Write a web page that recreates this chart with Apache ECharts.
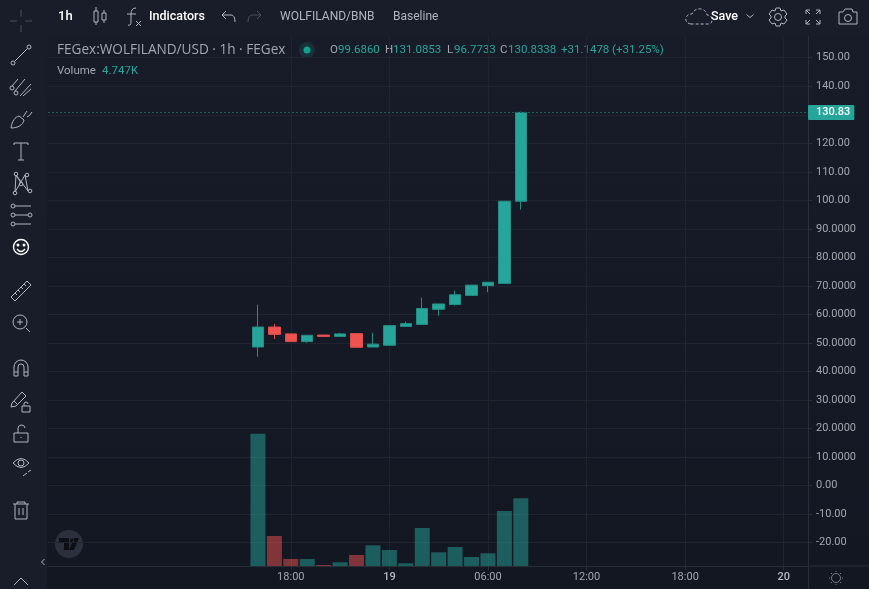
<!DOCTYPE html>
<html>
<head>
<meta charset="utf-8">
<style>
html, body { margin: 0; padding: 0; background: #131722; overflow: hidden; }
#chart { width: 869px; height: 589px; }
</style>
<script src="https://cdn.jsdelivr.net/npm/echarts@6/dist/echarts.min.js"></script>
</head>
<body>
<div id="chart"></div>
<script>
// hours counted from 00:00 on the 18th
let hours = [16, 17, 18, 19, 20, 21, 22, 23, 24, 25, 26, 27, 28, 29, 30, 31, 32];
let opens = [48.6, 55.6, 53.2, 50.5, 52.8, 52.3, 53.3, 48.6, 49.2, 55.8, 56.5, 61.8, 63.5, 66.7, 70.1, 70.9, 99.686];
let closes = [55.6, 53.0, 50.5, 52.7, 52.3, 53.2, 48.5, 49.6, 56.1, 56.8, 62.1, 63.7, 66.9, 70.3, 71.3, 99.7, 130.8338];
let lows = [45.2, 51.4, 50.5, 50.1, 52.3, 52.3, 48.5, 48.6, 49.2, 55.8, 56.5, 59.6, 63.1, 66.7, 67.8, 70.7, 96.7733];
let highs = [63.4, 56.7, 53.2, 52.7, 52.8, 53.6, 53.3, 53.6, 56.1, 57.5, 65.9, 63.7, 68.3, 70.3, 71.3, 99.7, 131.0853];
let volumes = [9277, 2104, 491, 491, 70, 257, 771, 1449, 1122, 187, 2665, 958, 1332, 631, 888, 3857, 4747];

let price_ticks = [150, 140, 130, 120, 110, 100, 90, 80, 70, 60, 50, 40, 30, 20, 10, 0, -10, -20];
let price_labels = ['150.00', '140.00', '130.00', '120.00', '110.00', '100.00', '90.0000', '80.0000', '70.0000', '60.0000',
    '50.0000', '40.0000', '30.0000', '20.0000', '10.0000', '0.00', '-10.00', '-20.00'];
let time_ticks = [18, 24, 30, 36, 42, 48];
let time_labels = ['18:00', '{day|19}', '06:00', '12:00', '18:00', '{day|20}'];
let last_price = 130.83;

let up_color = '#26a69a';
let down_color = '#ef5350';
let text_color = '#a3a6af';
let icon_color = '#b2b5be';
let grid_color = '#20242f';
let font = 'Roboto';
let icon_count = 0;

function circle(x, y, r) {
    return 'M' + (x - r) + ' ' + y + 'a' + r + ' ' + r + ' 0 1 0 ' + (2 * r) + ' 0a' + r + ' ' + r + ' 0 1 0 ' + (-2 * r) + ' 0';
}

// the graphic component has no plain path type, so each icon gets its own shape
function pathType(path) {
    icon_count++;
    let name = 'icon' + icon_count;
    echarts.graphic.registerShape(name, echarts.graphic.extendPath(path, {}));
    return name;
}

function icon(x, y, path, color, width) {
    return {
        type: pathType(path), x: x, y: y, silent: true,
        style: { fill: 'none', stroke: color || icon_color, lineWidth: width || 1 }
    };
}

function label(x, y, text, color, size, weight, family) {
    return {
        type: 'text', x: x, y: y, silent: true,
        style: { text: text, fill: color || icon_color, font: (weight || 'normal') + ' ' + (size || 12) + 'px ' + (family || font), textVerticalAlign: 'middle' }
    };
}

function drawChrome() {
    let pan = [
        { type: 'rect', z: -10, silent: true, shape: { x: 0, y: 0, width: 47, height: 589 }, style: { fill: '#191d2a' } },
        { type: 'rect', z: -10, silent: true, shape: { x: 0, y: 0, width: 869, height: 35 }, style: { fill: '#191d2a' } }
    ];
    let left_tools = [
        icon(21, 21, 'M-11 0H-4M4 0H11M0 -11V-4M0 4V11', '#4a4e59'),
        icon(21, 55, 'M-6.5 6.5L6.5 -6.5' + circle(-8, 8, 2) + circle(8, -8, 2)),
        icon(21, 87, 'M-9 -1L-3 -8M-6 4L4 -8M-1 9L10 -3M2 9L10 2' + circle(-9, 1, 2) + circle(-5, 6, 2)),
        icon(21, 119, 'M-10 9C-9 2 -6 -2 -2 -3L3 1C2 6 -3 9 -10 9ZM2 -2L6 -8M6 -2Q9 -3 11 -7'),
        icon(21, 151, 'M-7 -6V-8H7V-6M0 -8V9M-3 9H3'),
        icon(21, 183, 'M-6 9L-5 -8L7 8M-6 9L4 -8L7 8M-5 -8L0 0' + circle(-6, 10, 1.8) + circle(-5, -9, 1.8) + circle(6, -8, 1.8) + circle(9, 8, 1.8) + circle(0, 1, 1.8)),
        icon(21, 215, 'M-6 -9H10M-6 0H7M-6 9H10' + circle(-8, -9, 2) + circle(-8, 0, 2) + circle(9, 0, 2) + circle(-8, 9, 2)),
        icon(21, 247, circle(0, 0, 7.5) + 'M-4 2Q0 7 4 2' + circle(-3, -2, 0.8) + circle(3, -2, 0.8), '#ffffff', 1.4),
        icon(21, 291, 'M-10 6L6 -10L10 -6L-6 10ZM-6 2L-4 4M-3 -1L-1 1M0 -4L2 -2M3 -7L5 -5'),
        icon(21, 323, circle(-1, -1, 7) + 'M5 5L9 9M-1 -4V2M-4 -1H2'),
        icon(21, 368, 'M-7 8V-1A7 7 0 0 1 7 -1V8H3V-1A3 3 0 0 0 -3 -1V8ZM-7 4H-3M3 4H7'),
        icon(19, 399, 'M-7 4L3 -7L7 -3L-3 7L-8 8ZM-5 2L-1 6'),
        icon(26, 406, 'M-4 0H4V6H-4ZM-2 0V-2A2 2 0 0 1 2 -2'),
        icon(21, 434, 'M-7 -1H7V8H-7ZM-3 -1V-5A3.5 3.5 0 0 1 4 -6M0 3V4'),
        icon(21, 463, 'M-8 0Q0 -9 8 0Q0 9 -8 0Z' + circle(0, 0, 3)),
        icon(27, 473, 'M-4 3L0 0M1 -1L4 -3'),
        icon(21, 511, 'M-8 -7H8M-4 -7V-9H4V-7M-6 -7V8H6V-7M-2 -3V4M2 -3V4'),
        icon(43, 562, 'M1.5 -3L-1.5 0L1.5 3'),
        icon(21, 589, 'M-7 -4L0 -11L7 -4')
    ];
    let top_tools = [
        icon(99, 16, 'M-5 -5H-1V6H-5ZM-3 -9V-5M-3 6V9M3 -3H7V4H3ZM5 -6V-3M5 4V7'),
        icon(134, 17, 'M2 -9Q-3 -9 -3 -3V5Q-3 9 -6 8M-7 -3H2M2 4L7 9M7 4L2 9'),
        icon(229, 17, 'M-3 -6L-7 -2L-3 2M-7 -2H2Q6 -2 6 5'),
        icon(254, 17, 'M3 -6L7 -2L3 2M7 -2H-2Q-6 -2 -6 5', '#4a4e59'),
        { type: pathType('M-14 7Q-20 6 -19 1Q-18 -3 -13 -3Q-10 -9 -4 -8Q1 -7 2 -2Q7 -2 7 3Q7 7 3 7Z'), x: 705, y: 17, silent: true,
            style: { fill: 'none', stroke: icon_color, lineWidth: 1, lineDash: [3, 2] } },
        icon(750, 16, 'M-3.5 -1.5L0 1.5L3.5 -1.5'),
        icon(778, 17, circle(0, 0, 3.5) + 'M-2 -9H2L3 -6L6 -7L9 -3L7 -1V1L9 3L6 7L3 6L2 9H-2L-3 6L-6 7L-9 3L-7 1V-1L-9 -3L-6 -7L-3 -6Z'),
        icon(813, 17, 'M-7 -3V-7H-3M-7 -7L-3 -3M3 -7H7V-3M7 -7L3 -3M-7 3V7H-3M-7 7L-3 3M3 7H7V3M7 7L3 3'),
        icon(848, 17, 'M-9 -5H-5L-3 -8H4L5 -5H9V7H-9Z' + circle(0, 1, 3.5))
    ];
    let diff = closes[16] - opens[16];
    let legend = [
        label(57, 50, 'FEGex:WOLFILAND/USD · 1h · FEGex', text_color, 13.6, 'normal', 'Open Sans'),
        { type: 'circle', silent: true, shape: { cx: 307, cy: 50, r: 8 }, style: { fill: '#17303a' } },
        { type: 'circle', silent: true, shape: { cx: 307, cy: 50, r: 3.5 }, style: { fill: '#12a08e' } },
        label(330, 50, 'O', text_color, 11.5),
        label(338, 50, opens[16].toFixed(4), up_color, 11.5),
        label(385, 50, 'H', text_color, 11.5),
        label(393, 50, highs[16].toFixed(4), up_color, 11.5),
        label(447, 50, 'L', text_color, 11.5),
        label(454, 50, lows[16].toFixed(4), up_color, 11.5),
        label(500, 50, 'C', text_color, 11.5),
        label(508, 50, closes[16].toFixed(4), up_color, 11.5),
        label(561, 50, '+' + diff.toFixed(4), up_color, 11.5),
        label(612, 50, '(+' + (diff / opens[16] * 100).toFixed(2) + '%)', up_color, 11.5),
        label(57, 71, 'Volume', text_color, 11.5),
        label(102, 71, (volumes[16] / 1000).toFixed(3) + 'K', up_color, 11.5)
    ];
    let top_text = [
        label(58, 17, '1h', '#ffffff', 13, '500'),
        label(149, 17, 'Indicators', '#ffffff', 12.5, '500'),
        label(280, 17, 'WOLFILAND/BNB', icon_color, 12),
        label(393, 17, 'Baseline', icon_color, 12),
        label(711, 17, 'Save', '#ffffff', 12.5, '500')
    ];
    let misc = [
        { type: 'circle', silent: true, shape: { cx: 69, cy: 544, r: 14 }, style: { fill: '#2c303d' } },
        { type: pathType('M-10 -6H0V6H-5V-1H-10Z' + circle(3, -3.5, 2) + 'M10 -6L5 6H0L5 -6Z'), x: 69, y: 544, silent: true, style: { fill: '#0d0f15' } },
        { type: 'line', silent: true, shape: { x1: 808, y1: 566, x2: 869, y2: 566 }, style: { stroke: '#2a2e39' } },
        { type: 'line', silent: true, shape: { x1: 808.5, y1: 566, x2: 808.5, y2: 589 }, style: { stroke: '#2a2e39' } },
        icon(836, 578, circle(0, 0, 4.5) + 'M0 -7V-6M0 6V7M-7 0H-6M6 0H7M-5 -5L-4 -4M4 4L5 5M-5 5L-4 4M4 -4L5 -5', '#787b86')
    ];
    return pan.concat(left_tools, top_tools, legend, top_text, misc);
}

function drawChart() {
    let my_chart = echarts.init(document.getElementById('chart'));

    let candle_data = hours.map((h, i) => [h, opens[i], closes[i], lows[i], highs[i]]);
    let volume_data = hours.map((h, i) => ({
        value: [h, volumes[i]],
        itemStyle: { color: closes[i] >= opens[i] ? 'rgba(38,166,154,0.5)' : 'rgba(239,83,80,0.5)' }
    }));

    let option = {
        animation: false,
        backgroundColor: {
            type: 'linear', x: 0, y: 0, x2: 0, y2: 1,
            colorStops: [{ offset: 0, color: '#181c29' }, { offset: 1, color: '#131722' }]
        },
        textStyle: { fontFamily: font },
        graphic: { elements: drawChrome() },
        grid: { left: 48, right: 61, top: 36, bottom: 23 },
        xAxis: {
            type: 'value',
            min: 3.22,
            max: 49.48,
            axisLine: { show: true, onZero: false, lineStyle: { color: '#2a2e39' } },
            axisTick: { show: true, length: 4, customValues: time_ticks, lineStyle: { color: '#2a2e39' } },
            splitLine: { show: true, lineStyle: { color: grid_color } },
            axisLabel: {
                customValues: time_ticks,
                color: text_color,
                fontSize: 11,
                margin: 6,
                rich: {
                    day: { color: '#b8bac2', fontSize: 11, fontWeight: 500 }
                },
                formatter: function (value) {
                    return time_labels[time_ticks.indexOf(value)];
                }
            }
        },
        yAxis: [
            {
                type: 'value',
                position: 'right',
                min: -28.16,
                max: 157.61,
                axisLine: { show: true, lineStyle: { color: '#2a2e39' } },
                axisTick: { show: true, length: 4, customValues: price_ticks, lineStyle: { color: '#2a2e39' } },
                splitLine: { show: true, lineStyle: { color: grid_color } },
                axisLabel: {
                    customValues: price_ticks,
                    color: text_color,
                    fontSize: 11,
                    margin: 8,
                    formatter: function (value) {
                        return price_labels[price_ticks.indexOf(value)];
                    }
                }
            },
            { type: 'value', show: false, min: 0, max: 37160, splitLine: { show: false } }
        ],
        series: [
            {
                name: 'Volume',
                type: 'bar',
                yAxisIndex: 1,
                barWidth: 15,
                data: volume_data
            },
            {
                name: 'FEGex:WOLFILAND/USD',
                type: 'candlestick',
                barWidth: 12,
                encode: { x: 0, y: [1, 2, 3, 4] },
                itemStyle: {
                    color: up_color,
                    color0: down_color,
                    borderColor: '#228f85',
                    borderColor0: '#dc4e4c',
                    borderWidth: 1
                },
                data: candle_data,
                markLine: {
                    silent: true,
                    symbol: 'none',
                    animation: false,
                    data: [{ yAxis: last_price }],
                    lineStyle: { color: '#17605c', type: [2, 2], width: 1 },
                    label: {
                        position: 'end',
                        distance: 0,
                        formatter: last_price.toFixed(2),
                        color: '#ffffff',
                        fontSize: 11,
                        fontWeight: 500,
                        backgroundColor: up_color,
                        borderRadius: 1,
                        padding: [2, 4, 2, 8]
                    }
                }
            }
        ]
    };

    my_chart.setOption(option);
}

drawChart();
</script>
</body>
</html>
